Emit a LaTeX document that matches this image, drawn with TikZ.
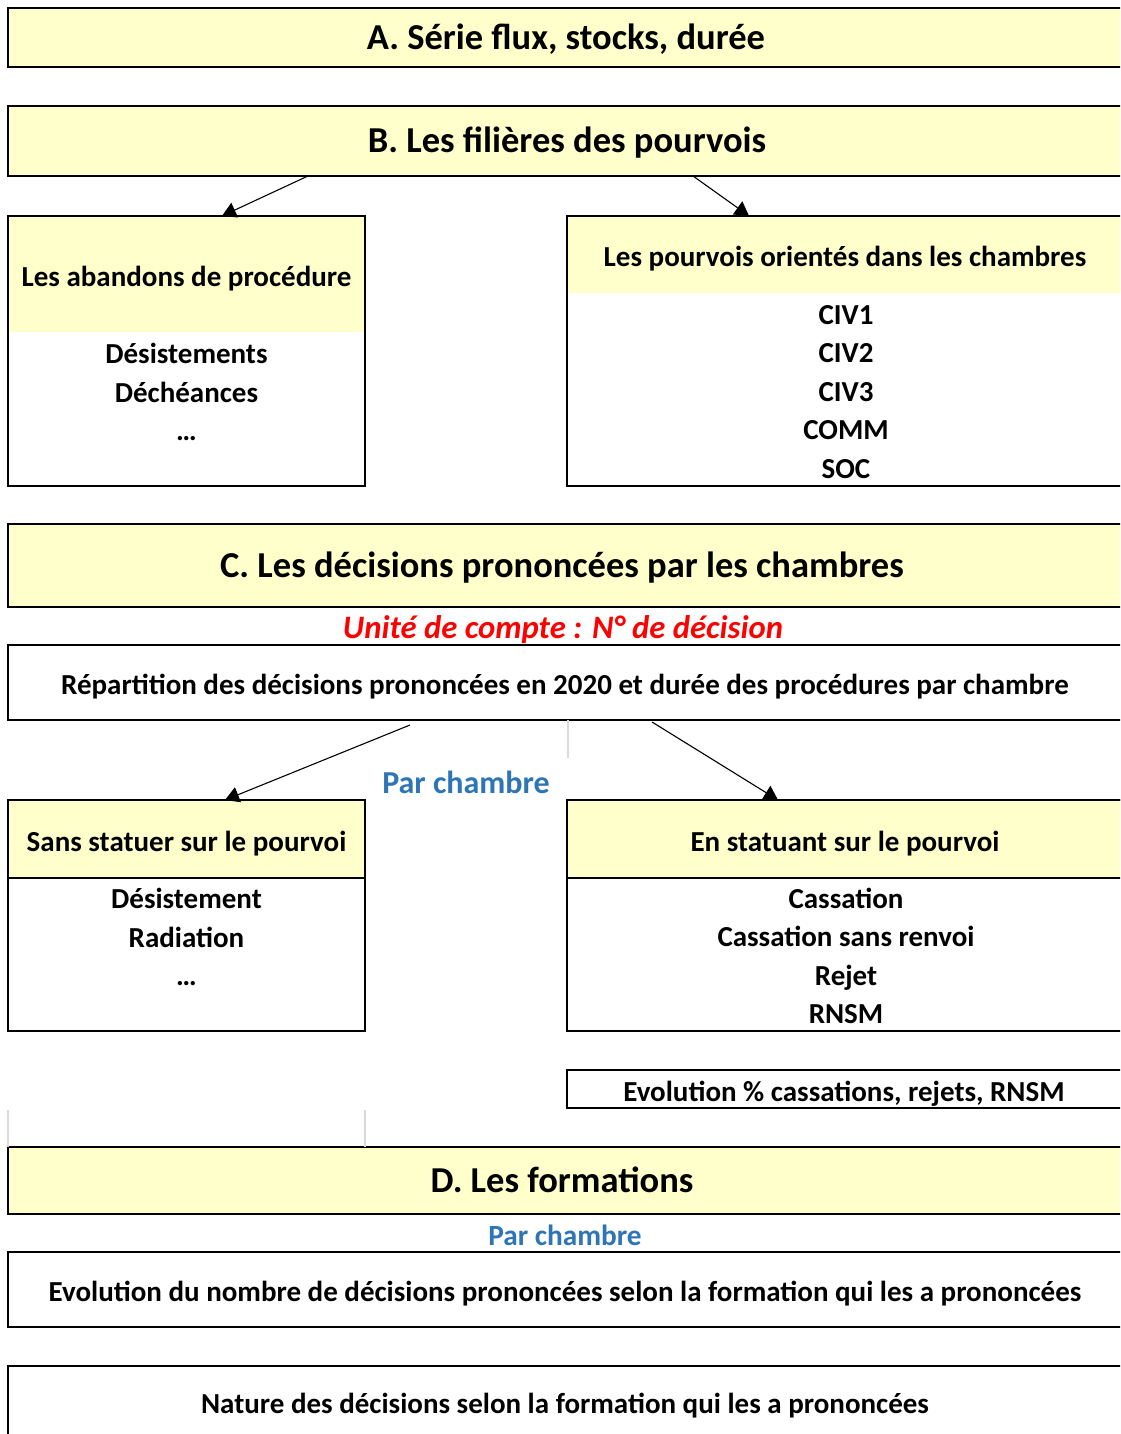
\documentclass[tikz,border=0pt]{standalone}
\usepackage{fontspec}
\setmainfont{Carlito}
\usetikzlibrary{arrows.meta}
\definecolor{paleyellow}{HTML}{FFFFCC}
\definecolor{excelblue}{HTML}{2E75B6}
\definecolor{lightgrey}{HTML}{D9D9D9}

\begin{document}
\begin{tikzpicture}[x=1pt, y=-1pt,
  box/.style={draw, line width=2pt, inner sep=0pt, outer sep=0pt, text height=30pt, text depth=6pt, font=\bfseries\fontsize{29}{34}\selectfont},
  title/.style={box, fill=paleyellow, font=\bfseries\fontsize{36.5}{43}\selectfont},
  head/.style={fill=paleyellow, inner sep=0pt, outer sep=0pt, text height=30pt, text depth=6pt, font=\bfseries\fontsize{29}{34}\selectfont},
  items/.style={align=center, inner sep=0pt, font=\bfseries\fontsize{29}{38.5}\selectfont},
  arr/.style={-{Triangle[length=14pt, width=16pt]}, line width=1.1pt},
  guide/.style={draw=lightgrey, line width=2pt}]
\useasboundingbox (0,0) rectangle (1120,1434);
\clip (0,0) rectangle (1120,1434);

% A et B
\node[title, minimum width=1122pt, minimum height=59pt] (A) at (569,37.5) {\hspace*{-6pt}A. Série flux, stocks, durée};
\node[title, minimum width=1122pt, minimum height=70pt] (B) at (569,141) {\hspace*{-4pt}B. Les filières des pourvois};

% filieres
\node[head, minimum width=357pt, minimum height=116pt] (abandonsHead) at (186.5,274) {Les abandons de procédure};
\node[box, minimum width=357pt, minimum height=270pt] (abandons) at (186.5,351) {};
\node[items] (abandonsList) at (186.5,392) {Désistements\\Déchéances\\\dots};
\node[head, minimum width=563pt, minimum height=77pt] (chambresHead) at (848.5,254.5) {\hspace*{-7pt}Les pourvois orientés dans les chambres};
\node[box, minimum width=563pt, minimum height=270pt] (chambres) at (848.5,351) {};
\node[items] (chambresList) at (846,392) {CIV1\\CIV2\\CIV3\\COMM\\SOC};
\draw[arr] ([xshift=-261pt]B.south) -- ([xshift=35.5pt]abandons.north);
\draw[arr] ([xshift=124pt]B.south) -- ([xshift=-99.5pt]chambres.north);

% C
\node[title, minimum width=1122pt, minimum height=83pt] (C) at (569,565.5) {\hspace*{-14pt}C. Les décisions prononcées par les chambres};
\node[inner sep=0pt, text=red, font=\bfseries\itshape\fontsize{32.7}{38}\selectfont] (unite) at (563,630) {Unité de compte : N° de décision};
\node[box, minimum width=1122pt, minimum height=75pt] (repart) at (569,682.5) {\hspace*{-8pt}Répartition des décisions prononcées en 2020 et durée des procédures par chambre};
\draw[guide] ([xshift=-1pt]repart.south) -- ++(0,38);
\node[inner sep=0pt, text=excelblue, font=\bfseries\fontsize{32}{38}\selectfont] (parChambreC) at (466,782) {Par chambre};

\node[box, fill=paleyellow, minimum width=357pt, minimum height=78pt] (sansHead) at (186.5,839) {Sans statuer sur le pourvoi};
\node[box, minimum width=357pt, minimum height=231pt] (sans) at (186.5,915.5) {};
\node[items] (sansList) at (186.5,937) {Désistement\\Radiation\\\dots};
\node[box, fill=paleyellow, minimum width=563pt, minimum height=78pt] (enHead) at (848.5,839) {\hspace*{-7pt}En statuant sur le pourvoi};
\node[box, minimum width=563pt, minimum height=231pt] (en) at (848.5,915.5) {};
\node[items] (enList) at (846,956) {Cassation\\Cassation sans renvoi\\Rejet\\RNSM};
\draw[arr] ([xshift=-159pt, yshift=-5pt]repart.south) -- ([xshift=38.5pt]sans.north);
\draw[arr] ([xshift=83pt, yshift=-2pt]repart.south) -- ([xshift=-70.5pt]en.north);

\node[box, minimum width=563pt, minimum height=38pt] (evolPct) at (848.5,1089) {\hspace*{-9pt}Evolution \% cassations, rejets, RNSM};

% D
\node[title, minimum width=1122pt, minimum height=67pt] (D) at (569,1180.5) {\hspace*{-14pt}D. Les formations};
\draw[guide] (D.north west) -- ++(0,-37);
\draw[guide] ([xshift=357pt]D.north west) -- ++(0,-37);
\node[inner sep=0pt, text=excelblue, font=\bfseries\fontsize{29.3}{35}\selectfont] (parChambreD) at (565,1235) {Par chambre};
\node[box, minimum width=1122pt, minimum height=75pt] (evolNombre) at (569,1289.5) {\hspace*{-8pt}Evolution du nombre de décisions prononcées selon la formation qui les a prononcées};
\node[box, minimum width=1122pt, minimum height=80pt] (nature) at (569,1406) {};
\node[inner sep=0pt, font=\bfseries\fontsize{29}{34}\selectfont] (natureText) at (565,1406) {Nature des décisions selon la formation qui les a prononcées};
\end{tikzpicture}
\end{document}
